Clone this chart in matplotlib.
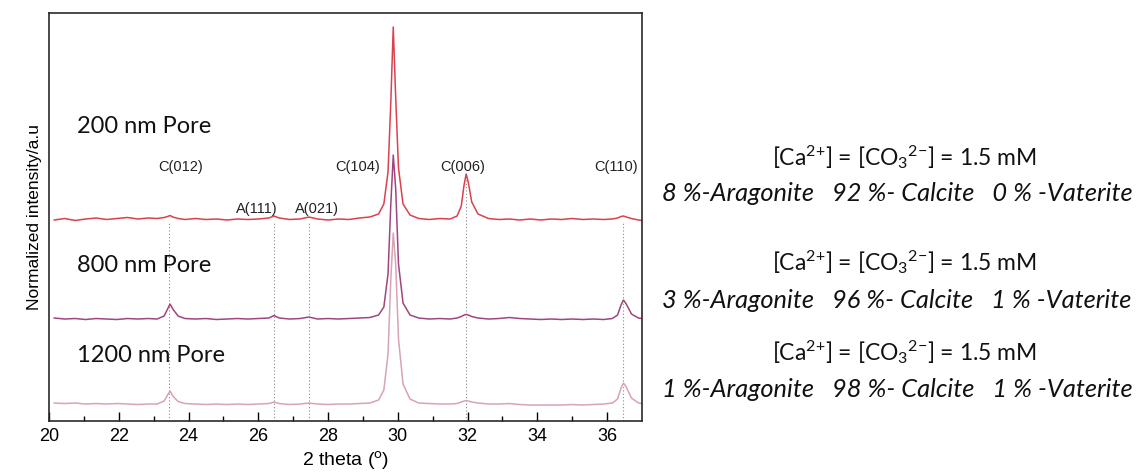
import numpy as np
import matplotlib
matplotlib.use("Agg")
import matplotlib.pyplot as plt

plt.rcParams["mathtext.fontset"] = "custom"
plt.rcParams["mathtext.rm"] = "Lato"
plt.rcParams["mathtext.it"] = "Lato:italic"

# 2 theta grid (deg) shared by the three patterns
two_theta = [20.15, 20.45, 20.75, 21.05, 21.35, 21.65, 21.95, 22.25, 22.55, 22.85,
             23.1, 23.3, 23.4, 23.47, 23.55, 23.7, 23.9, 24.2, 24.5, 24.8,
             25.1, 25.4, 25.7, 26.0, 26.3, 26.45, 26.6, 26.9, 27.2, 27.45,
             27.7, 28.0, 28.3, 28.6, 28.9, 29.2, 29.45, 29.6, 29.72, 29.8,
             29.87, 29.94, 30.02, 30.15, 30.35, 30.6, 30.9, 31.2, 31.5, 31.7,
             31.82, 31.9, 31.96, 32.02, 32.12, 32.3, 32.6, 32.9, 33.2, 33.5,
             33.8, 34.1, 34.4, 34.7, 35.0, 35.3, 35.6, 35.9, 36.15, 36.3,
             36.4, 36.47, 36.55, 36.7, 36.9, 37.0]

# intensities (a.u.)
int_200 = [0, 1.5, -0.5, 1, 2, 0.5, 1.5, 2.5, 1, 2,
           1.5, 2.5, 3.5, 4.5, 3, 1.5, 0.5, 1.5, 0.5, 1,
           0, 1, 0.5, 1, 2, 4, 2, 0.5, 1, 3,
           1, 0, 1, 0.5, 2, 3, 6, 16, 48, 118,
           193, 122, 52, 16, 5, 1.5, 0.5, 1.5, 1, 4,
           14, 35, 46, 38, 18, 6, 1.5, 0.5, 1, 0,
           1, 0, 1, 0.5, 1.5, 0.5, 1, 0.5, 1, 2,
           3.5, 4, 3, 1.5, 0, -0.5]
int_800 = [1, 0, 0.5, -0.5, 0.5, 0, -0.5, 0.5, 0, 0.5,
           0, 3, 10, 15, 10, 3, 0.5, 0, 0.5, -0.5,
           0, 0.5, 0, 0.5, 1, 3.5, 1, 0, 0.5, 2,
           0, 0.5, 0, 0.5, 1, 1.5, 4, 12, 45, 115,
           164, 130, 55, 16, 4, 1, 0, 0.5, 0, 1,
           2.5, 4, 4.5, 4, 2.5, 1, 0, 0.5, 1.5, 0.5,
           0, -0.5, 0, -0.5, 0, -0.5, 0, -0.5, 0.5, 4,
           14, 19, 15, 5, 1, 0.5]
int_1200 = [1, 0.5, 1, 0, 0.5, 0, 0.5, 0, -0.5, 0,
            0, 3, 9, 13, 8, 2.5, 0.5, 0, -0.5, 0,
            -0.5, 0, -0.5, 0, 0.5, 2, 0.5, -0.5, 0, 1,
            0, -0.5, 0, 0, 0.5, 1, 4, 14, 50, 125,
            171, 140, 65, 20, 5, 1, 0.5, 0, 0, 0.5,
            2, 3, 3.5, 3, 2, 1, 0, 0, 0.5, -0.5,
            -1, -1, -1, -1, -0.5, -1, -0.5, 0, 1, 5,
            16, 21, 17, 6, 1, 0.5]

# vertical stacking offsets
offset_200 = 201
offset_800 = 102
offset_1200 = 17

pore_labels = ["200 nm Pore", "800 nm Pore", "1200 nm Pore"]
pore_label_y = [294, 156, 66]

# reflections
ref_names = ["C(012)", "A(111)", "A(021)", "C(104)", "C(006)", "C(110)"]
ref_label_x = [23.77, 25.97, 27.69, 28.86, 31.86, 36.26]
ref_label_y = [254, 212, 212, 254, 254, 254]
ref_lines = [23.45, 26.45, 27.45, 31.96, 36.47]
ref_line_top = [199, 199, 199, 245, 199]

conc_text = r"[Ca$^{2{+}}$] = [CO$_{3}$$^{2{-}}$] = 1.5 mM"
phase_text = ["8 %-Aragonite   92 %- Calcite   0 % -Vaterite",
              "3 %-Aragonite   96 %- Calcite   1 % -Vaterite",
              "1 %-Aragonite   98 %- Calcite   1 % -Vaterite"]

fig = plt.figure(figsize=(11.37, 4.72), dpi=100)
ax = fig.add_axes([0.0431, 0.108, 0.5215, 0.8645])

x = np.array(two_theta)
ax.plot(x, np.array(int_1200) + offset_1200, color="#d8a3b3", lw=1.1)
ax.plot(x, np.array(int_800) + offset_800, color="#a0457e", lw=1.1)
ax.plot(x, np.array(int_200) + offset_200, color="#d9414f", lw=1.1)

for xl, top in zip(ref_lines, ref_line_top):
    ax.plot([xl, xl], [0, top], ls=(0, (1, 2)), color="#8a8a8a", lw=0.8, zorder=0)

for name, xl, yl in zip(ref_names, ref_label_x, ref_label_y):
    ax.text(xl, yl, name, ha="center", va="center", fontsize=10.5,
            family="Liberation Sans", color="#222222")

for lab, yl in zip(pore_labels, pore_label_y):
    ax.text(20.8, yl, lab, ha="left", va="center", fontsize=17, family="Lato",
            color="#111111")

ax.set_xlim(20, 37)
ax.set_ylim(0, 408)
ax.set_xticks(np.arange(20, 37, 2))
ax.set_xticks(np.arange(21, 37, 2), minor=True)
ax.set_yticks([])
ax.tick_params(axis="x", which="major", direction="in", length=6.5, width=1,
               labelsize=13, pad=5)
ax.tick_params(axis="x", which="minor", direction="in", length=3.6, width=1)
for lbl in ax.get_xticklabels():
    lbl.set_family("Liberation Sans")
for s in ax.spines.values():
    s.set_linewidth(1.2)
    s.set_color("#2a2a2a")

ax.set_xlabel("2 theta ($^{\\mathrm{o}}$)", fontsize=14, family="Liberation Sans",
              labelpad=3)
ax.set_ylabel("Normalized intensity/a.u", fontsize=12.5, family="Liberation Sans",
              labelpad=5)

conc_y = [0.667, 0.445, 0.254]
phase_y = [0.591, 0.364, 0.174]
for cy, py, pt in zip(conc_y, phase_y, phase_text):
    fig.text(0.7955, cy, conc_text, ha="center", va="center", fontsize=16.5,
             family="Lato", color="#111111")
    fig.text(0.789, py, pt, ha="center", va="center", fontsize=18.3,
             family="Lato", style="italic", color="#111111")

fig.savefig("out.png", dpi=100)
